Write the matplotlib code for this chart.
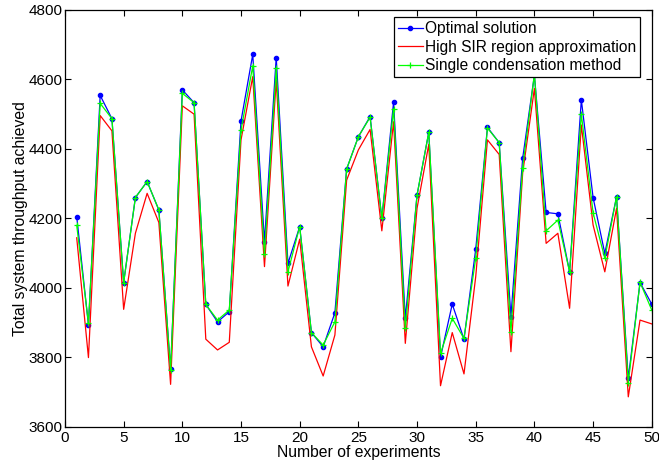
import matplotlib
matplotlib.use("Agg")
import matplotlib.pyplot as plt
import numpy as np

plt.rcParams['font.family'] = ['Liberation Sans', 'DejaVu Sans']

experiments = list(range(1, 51))
optimal = [4205, 3893, 4554, 4487, 4015, 4260, 4306, 4224, 3765, 4570,
           4533, 3952, 3902, 3931, 4480, 4672, 4133, 4663, 4070, 4176,
           3871, 3830, 3928, 4342, 4435, 4493, 4200, 4534, 3912, 4267,
           4448, 3800, 3953, 3852, 4111, 4462, 4418, 3917, 4373, 4612,
           4217, 4213, 4046, 4541, 4260, 4099, 4262, 3739, 4015, 3953]
high_sir = [4144, 3799, 4496, 4452, 3938, 4157, 4272, 4188, 3722, 4524,
            4500, 3852, 3821, 3843, 4426, 4608, 4061, 4598, 4005, 4140,
            3830, 3746, 3864, 4310, 4397, 4456, 4164, 4478, 3840, 4229,
            4413, 3718, 3871, 3752, 4032, 4426, 4384, 3816, 4330, 4574,
            4128, 4157, 3941, 4469, 4181, 4046, 4229, 3686, 3907, 3896]
single_cond = [4180, 3898, 4531, 4487, 4015, 4260, 4306, 4224, 3763, 4560,
               4533, 3952, 3907, 3936, 4454, 4639, 4097, 4632, 4046, 4176,
               3871, 3835, 3902, 4342, 4435, 4491, 4200, 4515, 3883, 4267,
               4448, 3811, 3912, 3854, 4085, 4460, 4418, 3874, 4346, 4615,
               4164, 4195, 4046, 4500, 4216, 4085, 4262, 3727, 4016, 3936]

fig = plt.figure(figsize=(6.59, 4.69), dpi=100)
ax = fig.add_axes([0.0986, 0.0902, 0.8904, 0.8885])

ax.plot(experiments, optimal, color='#0000ff', marker='.', markersize=6,
        linewidth=0.9, label='Optimal solution')
ax.plot(experiments, high_sir, color='#ff0000', linewidth=0.9,
        label='High SIR region approximation')
ax.plot(experiments, single_cond, color='#00ff00', marker='+', markersize=4,
        markeredgewidth=0.9, linewidth=0.9, label='Single condensation method')

ax.set_xlim(0, 50)
ax.set_ylim(3600, 4800)
ax.set_xticks(np.arange(0, 51, 5))
ax.set_yticks(np.arange(3600, 4801, 200))
ax.tick_params(direction='in', top=True, right=True, labelsize=11, length=4,
               width=0.8)
ax.tick_params(axis='x', pad=3)
ax.tick_params(axis='y', pad=1.5)
for s in ax.spines.values():
    s.set_linewidth(0.9)

ax.set_xlabel('Number of experiments', fontsize=11.3, labelpad=0)
ax.set_ylabel('Total system throughput achieved', fontsize=11.3, labelpad=1)

leg = ax.legend(loc='upper right', bbox_to_anchor=(0.980, 0.9825), fontsize=11.2,
                frameon=True, fancybox=False, edgecolor='black', framealpha=1,
                borderpad=0.25, labelspacing=0.22, handlelength=1.6,
                handletextpad=0.15, borderaxespad=0.0, numpoints=1)
leg.get_frame().set_linewidth(0.9)

fig.savefig('out.png', dpi=100)
